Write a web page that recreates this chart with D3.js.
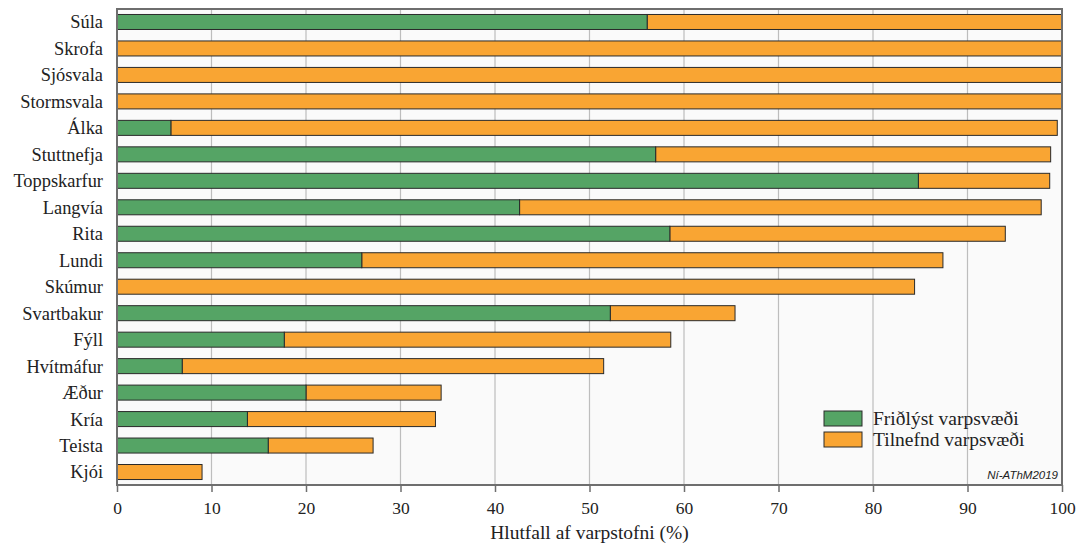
<!DOCTYPE html>
<html>
<head>
<meta charset="utf-8">
<script src="https://cdn.jsdelivr.net/npm/d3@7"></script>
<style>
  body { margin: 0; background: #fff; }
</style>
</head>
<body>
<svg id="chart"></svg>
<script>
const species = ["Súla", "Skrofa", "Sjósvala", "Stormsvala", "Álka", "Stuttnefja", "Toppskarfur",
  "Langvía", "Rita", "Lundi", "Skúmur", "Svartbakur", "Fýll", "Hvítmáfur", "Æður", "Kría", "Teista", "Kjói"];
// friðlýst (protected) share and total share incl. tilnefnd (nominated)
const protectedPct = [56.1, 0, 0, 0, 5.7, 57.0, 84.8, 42.6, 58.5, 25.9, 0, 52.2, 17.7, 6.9, 20.0, 13.8, 16.0, 0];
const totalPct = [100, 100, 100, 100, 99.5, 98.8, 98.7, 97.8, 94.0, 87.4, 84.4, 65.4, 58.6, 51.5, 34.3, 33.7, 27.1, 9.0];
const xTicks = [0, 10, 20, 30, 40, 50, 60, 70, 80, 90, 100];
const legendLabels = ["Friðlýst varpsvæði", "Tilnefnd varpsvæði"];
const colors = ["#55a465", "#f9a533"];

const serif = "'Liberation Serif', 'Times New Roman', 'DejaVu Serif', serif";

const W = 1081, H = 547;
const margin = { top: 9, right: 19, bottom: 62, left: 117 };
const width = W - margin.left - margin.right,
  height = H - margin.top - margin.bottom;

const svg = d3.select("#chart").attr("width", W).attr("height", H)
  .attr("font-family", serif);
const g = svg.append("g").attr("transform", `translate(${margin.left},${margin.top})`);

const x = d3.scaleLinear().domain([0, 100]).range([0, width]);
const y = d3.scaleBand().domain(species).range([0, height])
  .paddingInner(0.433).paddingOuter(0.207);

g.append("rect")
  .attr("width", width).attr("height", height)
  .attr("fill", "#fafafa");

g.selectAll(".grid")
  .data(xTicks.slice(1, -1))
  .enter().append("line")
  .attr("x1", d => x(d)).attr("x2", d => x(d))
  .attr("y1", 0).attr("y2", height)
  .attr("stroke", "#bdbdbd").attr("stroke-width", 1.2);

const rows = species.map((s, i) => ({ s, p: protectedPct[i], t: totalPct[i] }));

// tilnefnd part (from protected end to total)
g.selectAll(".nom")
  .data(rows)
  .enter().append("rect")
  .attr("x", d => x(d.p))
  .attr("y", d => y(d.s))
  .attr("width", d => x(d.t) - x(d.p))
  .attr("height", y.bandwidth())
  .attr("fill", colors[1])
  .attr("stroke", "#2a2a2a").attr("stroke-width", 1);

g.selectAll(".prot")
  .data(rows.filter(d => d.p > 0))
  .enter().append("rect")
  .attr("x", x(0))
  .attr("y", d => y(d.s))
  .attr("width", d => x(d.p) - x(0))
  .attr("height", y.bandwidth())
  .attr("fill", colors[0])
  .attr("stroke", "#2a2a2a").attr("stroke-width", 1);

// frame
g.append("rect")
  .attr("width", width).attr("height", height)
  .attr("fill", "none").attr("stroke", "#6e6e6e").attr("stroke-width", 2);

// x axis
const xAxis = g.append("g")
  .attr("transform", `translate(0,${height})`)
  .call(d3.axisBottom(x).tickValues(xTicks).tickSize(7).tickPadding(10))
  .attr("font-family", serif).attr("font-size", 17.5);
xAxis.select(".domain").remove();
xAxis.selectAll("line").attr("stroke", "#6e6e6e").attr("stroke-width", 1.5);
xAxis.selectAll("text").attr("fill", "#222");

// y labels
g.selectAll(".ylab")
  .data(species)
  .enter().append("text")
  .attr("x", -14)
  .attr("y", d => y(d) + y.bandwidth() / 2)
  .attr("dy", "0.35em")
  .attr("text-anchor", "end")
  .attr("font-size", 18.4)
  .attr("fill", "#222")
  .text(d => d);

svg.append("text")
  .attr("x", margin.left + width / 2)
  .attr("y", 539)
  .attr("text-anchor", "middle")
  .attr("font-size", 19.5)
  .attr("fill", "#222")
  .text("Hlutfall af varpstofni (%)");

// legend
const legend = g.append("g").attr("transform", `translate(${824 - margin.left},${411 - margin.top})`);
legendLabels.forEach((lab, i) => {
  legend.append("rect")
    .attr("x", 0).attr("y", i * 21)
    .attr("width", 38).attr("height", 15)
    .attr("fill", colors[i]).attr("stroke", "#2a2a2a").attr("stroke-width", 1);
  legend.append("text")
    .attr("x", 49).attr("y", i * 21 + 7.5)
    .attr("dy", "0.35em")
    .attr("font-size", 19.5)
    .attr("fill", "#222")
    .text(lab);
});

g.append("text")
  .attr("x", width - 4).attr("y", height - 6)
  .attr("text-anchor", "end")
  .attr("font-family", "'Liberation Sans', Arial, sans-serif")
  .attr("font-style", "italic")
  .attr("font-size", 11.5)
  .attr("fill", "#222")
  .text("Ní-AThM2019");
</script>
</body>
</html>
